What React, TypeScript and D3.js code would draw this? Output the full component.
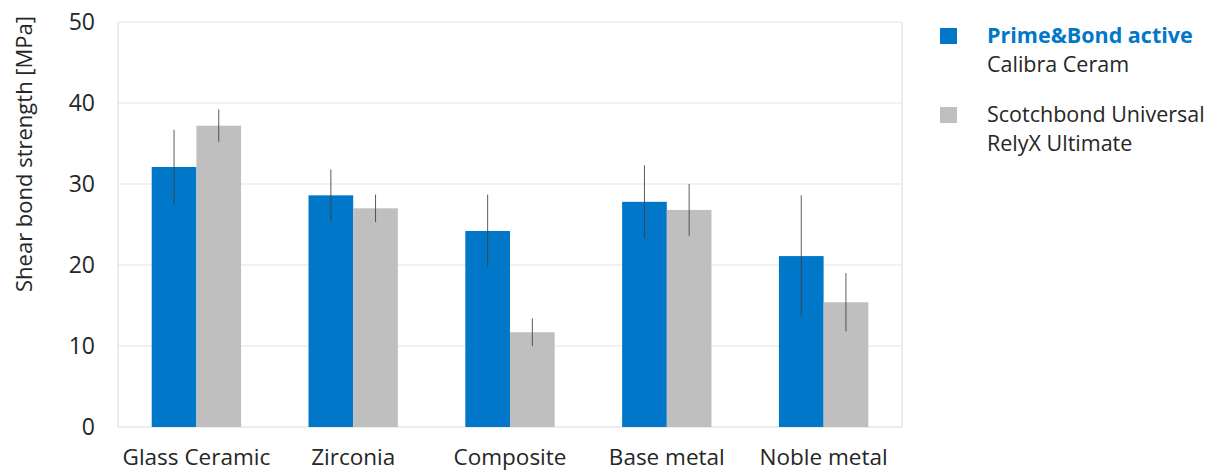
import React from "react";
import * as d3 from "d3";

const categories = ["Glass Ceramic", "Zirconia", "Composite", "Base metal", "Noble metal"];
const seriesNames = ["Prime&Bond active", "Scotchbond Universal"];
const seriesSub = ["Calibra Ceram", "RelyX Ultimate"];
const primeValues = [32.1, 28.6, 24.2, 27.8, 21.1];
const primeErrors = [4.6, 3.2, 4.5, 4.5, 7.5];
const scotchValues = [37.2, 27.0, 11.7, 26.8, 15.4];
const scotchErrors = [2.0, 1.7, 1.7, 3.2, 3.6];
const yTicks = [0, 10, 20, 30, 40, 50];

const colors = ["#0077C8", "#BFBFBF"];
const FONT = "'Open Sans', sans-serif";

export default function App() {
  const W = 1215, H = 473;
  const left = 118, right = 902, top = 22, bottom = 427;
  const x = d3.scaleBand<string>().domain(categories).range([left, right]).paddingInner(0.43).paddingOuter(0.215);
  const inner = d3.scaleBand<number>().domain([0, 1]).range([0, x.bandwidth()]);
  const y = d3.scaleLinear().domain([0, 50]).range([bottom, top]);
  const series = [
    { vals: primeValues, errs: primeErrors },
    { vals: scotchValues, errs: scotchErrors },
  ];
  return (
    <svg width={W} height={H} style={{ position: "absolute", left: 0, top: 0, background: "#fff" }} fontFamily={FONT}>
      <rect x={0} y={0} width={W} height={H} fill="#fff" />
      {yTicks.map((t) => (
        <g key={t}>
          {t > 0 && <line x1={left} x2={right} y1={y(t)} y2={y(t)} stroke="#E3E3E3" strokeWidth={1} />}
          <text x={95} y={y(t)} dy="0.36em" textAnchor="end" fontSize={23} fill="#262626">{t}</text>
        </g>
      ))}
      <line x1={left} x2={left} y1={top} y2={bottom} stroke="#DADADA" />
      <line x1={right} x2={right} y1={top} y2={bottom} stroke="#DADADA" />
      <line x1={left} x2={right} y1={bottom} y2={bottom} stroke="#DADADA" />
      {series.map((s, si) =>
        categories.map((c, ci) => {
          const bx = (x(c) as number) + (inner(si) as number);
          const bw = inner.bandwidth();
          return (
            <rect key={`${si}-${ci}`} x={bx} y={y(s.vals[ci])} width={bw} height={y(0) - y(s.vals[ci])} fill={colors[si]} />
          );
        })
      )}
      {series.map((s, si) =>
        categories.map((c, ci) => {
          const cx = (x(c) as number) + (inner(si) as number) + inner.bandwidth() / 2;
          return (
            <line key={`e${si}-${ci}`} x1={cx} x2={cx} y1={y(s.vals[ci] + s.errs[ci])} y2={y(s.vals[ci] - s.errs[ci])} stroke="#404040" strokeOpacity={0.85} strokeWidth={1} />
          );
        })
      )}
      {categories.map((c) => (
        <text key={c} x={(x(c) as number) + x.bandwidth() / 2} y={465} textAnchor="middle" fontSize={22.5} fill="#262626">{c}</text>
      ))}
      <text transform={`translate(32,154) rotate(-90)`} textAnchor="middle" fontSize={22} fill="#262626">Shear bond strength [MPa]</text>
      {seriesNames.map((n, i) => {
        const yy = 28 + i * 79;
        return (
          <g key={n}>
            <rect x={940} y={yy} width={17} height={16} fill={colors[i]} />
            <text x={987} y={yy + 15} fontSize={21.5} fontWeight={i === 0 ? "bold" : "normal"} fill={i === 0 ? "#0077C8" : "#262626"}>{n}</text>
            <text x={987} y={yy + 44} fontSize={21.5} fill="#262626">{seriesSub[i]}</text>
          </g>
        );
      })}
    </svg>
  );
}
